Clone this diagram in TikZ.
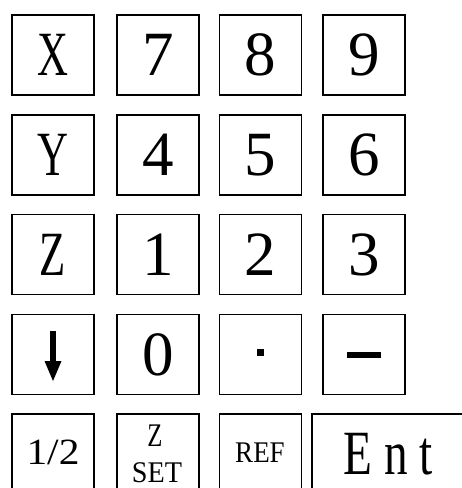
\documentclass[tikz,border=0pt]{standalone}
\usepackage{fontspec}
\setmainfont{Liberation Serif}
\usepackage{graphicx}
\newcommand\keyL[1]{\scalebox{0.68}[1]{#1}}
\begin{document}
\begin{tikzpicture}[x=1pt,y=-1pt,
  key/.style={draw,line width=1.8pt,minimum width=82pt,minimum height=80pt,inner sep=0pt,
    font=\fontsize{63}{63}\selectfont},
  small/.style={inner sep=0pt},
  mark fill/.style={fill=black,inner sep=0pt}]
\useasboundingbox (0,0) rectangle (462,488);
\clip (0,0) rectangle (462,488);
% row 1
\node[key] (kX) at (53,55) {\keyL{X}};
\node[key] (k7) at (158,55) {7};
\node[key] (k8) at (260.5,55) {8};
\node[key] (k9) at (364,55) {9};
% row 2
\node[key] (kY) at (53,155) {\keyL{Y}};
\node[key] (k4) at (158,155) {4};
\node[key] (k5) at (260.5,155) {5};
\node[key] (k6) at (364,155) {6};
% row 3
\node[key] (kZ) at (53,254.5) {\keyL{Z}};
\node[key] (k1) at (158,254.5) {1};
\node[key] (k2) at (260.5,254.5) {2};
\node[key] (k3) at (364,254.5) {3};
% row 4
\node[key] (kdown) at (53,354.5) {};
\node[key] (k0) at (158,354.5) {0};
\node[key] (kdot) at (260.5,354.5) {};
\node[key] (kminus) at (364,354.5) {};
\fill (50.2,331) rectangle (55.8,366);
\fill (44.5,361) -- (61.5,361) -- (53,381) -- cycle;
\node[mark fill,minimum size=7pt] (dotmark) at (260.5,352.5) {};
\node[mark fill,minimum width=34pt,minimum height=6pt] (minusmark) at (364,355) {};
% row 5
\node[key] (khalf) at (53,454) {};
\node[key] (kzset) at (158,454) {};
\node[key] (kref) at (260.5,454) {};
\node[key,minimum width=156pt] (kent) at (390,454) {};
\node[small,font=\fontsize{37}{37}\selectfont] (thalf) at (53,452.5) {\scalebox{1.12}[1]{1/2}};
\node[small,font=\fontsize{33}{33}\selectfont] (tz) at (155,436) {\scalebox{0.75}[1]{Z}};
\node[small,font=\fontsize{30}{30}\selectfont] (tset) at (157,473) {\scalebox{0.94}[1]{SET}};
\node[small,font=\fontsize{30}{30}\selectfont] (tref) at (260,453) {\scalebox{0.9}[1]{REF}};
\node[small,font=\fontsize{63}{63}\selectfont] (tent) at (388,454) {\scalebox{0.75}[1]{E\hspace{16pt}n\hspace{16pt}t}};
\end{tikzpicture}
\end{document}
